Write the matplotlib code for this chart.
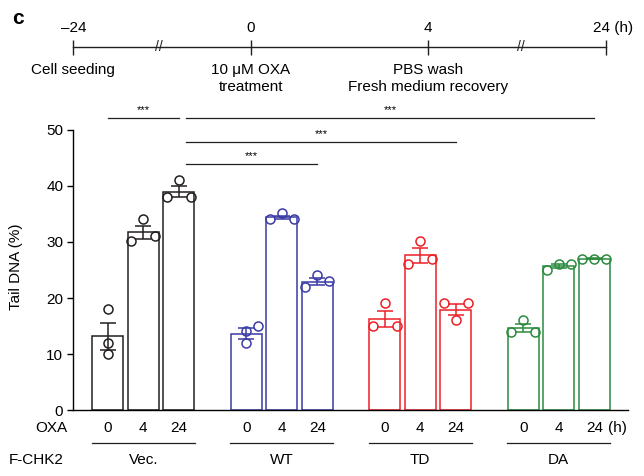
import numpy as np
import matplotlib
matplotlib.use('Agg')
import matplotlib.pyplot as plt

plt.rcParams['font.family'] = ['Liberation Sans', 'DejaVu Sans']
plt.rcParams['font.size'] = 11

# data
groups = ['Vec.', 'WT', 'TD', 'DA']
oxa_times = ['0', '4', '24']
colors = ['#231f20', '#3b3ba6', '#ec2027', '#2b8a3e']

tail_mean = [[13.2, 31.7, 39.0],
             [13.6, 34.4, 22.9],
             [16.2, 27.6, 17.9],
             [14.6, 25.7, 27.0]]
tail_sem = [[2.4, 1.2, 1.0],
            [1.0, 0.3, 0.6],
            [1.4, 1.3, 1.0],
            [0.7, 0.4, 0.1]]
tail_pts = [[[18.0, 12.0, 10.0], [34.1, 30.2, 31.1], [41.1, 38.1, 38.1]],
            [[15.0, 14.1, 12.0], [35.1, 34.1, 34.1], [24.1, 22.0, 23.0]],
            [[19.1, 15.0, 15.0], [30.2, 26.0, 27.0], [19.1, 19.1, 16.0]],
            [[16.1, 14.0, 14.0], [25.0, 26.1, 26.1], [27.0, 27.0, 27.0]]]
# which side of the bar each dot sits (-1 left, 0 middle, 1 right)
pt_side = [[[0, 0, 0], [0, -1, 1], [0, -1, 1]],
           [[1, 0, 0], [0, -1, 1], [0, -1, 1]],
           [[0, -1, 1], [0, -1, 1], [-1, 1, 0]],
           [[0, -1, 1], [-1, 0, 1], [-1, 0, 1]]]

# significance: (group, bar) -> (group, bar)
sig_pairs = [((0, 0), (0, 2)), ((0, 2), (3, 2)), ((0, 2), (2, 2)), ((0, 2), (1, 2))]
sig_y = [52.1, 52.1, 47.9, 43.9]
sig_txt = ['***', '***', '***', '***']

timeline_t = ['\u201324', '0', '4', '24']
timeline_lbl = ['Cell seeding', '10 \u03bcM OXA\ntreatment', 'PBS wash\nFresh medium recovery', '']

gstep = 3.9
bw = 0.87

fig = plt.figure(figsize=(6.44, 4.76), dpi=100)
ax = fig.add_axes([72.7/644, 66/476, 555.3/644, 280/476])

def xpos(g, i):
    return g*gstep + i

for g in range(4):
    c = colors[g]
    for i in range(3):
        x = xpos(g, i)
        ax.bar(x, tail_mean[g][i], width=bw, facecolor='white', edgecolor=c,
               linewidth=1.1, zorder=2)
        ax.errorbar(x, tail_mean[g][i], yerr=tail_sem[g][i], fmt='none',
                    ecolor=c, elinewidth=1.1, capsize=5.5, capthick=1.1, zorder=3)
        xs = [x + 0.34*s for s in pt_side[g][i]]
        ax.plot(xs, tail_pts[g][i], 'o', ms=6.5, mfc='none', mec=c, mew=1.1,
                zorder=4, clip_on=False)
    # labels under axis
    for i in range(3):
        ax.text(xpos(g, i), -3.2, oxa_times[i], ha='center', va='center',
                clip_on=False)
    ax.plot([xpos(g, 0) - 0.45, xpos(g, 2) + 0.45], [-5.9, -5.9], color='#231f20',
            lw=0.9, clip_on=False)
    ax.text(xpos(g, 1), -8.9, groups[g], ha='center', va='center', clip_on=False)

ax.annotate('(h)', xy=(xpos(3, 2), -3.2), xytext=(10, 0), textcoords='offset points',
            ha='left', va='center', annotation_clip=False)
ax.text(-1.15, -3.2, 'OXA', ha='right', va='center', clip_on=False)
ax.text(-1.25, -8.9, 'F-CHK2', ha='right', va='center', clip_on=False)

# significance bars
for k, (a, b) in enumerate(sig_pairs):
    x0 = xpos(*a)
    x1 = xpos(*b)
    if k > 0:
        x0 += 0.2
    ax.plot([x0, x1], [sig_y[k], sig_y[k]], color='#231f20', lw=0.9, clip_on=False)
    ax.annotate(sig_txt[k], xy=((x0 + x1)/2, sig_y[k]), xytext=(0, 3.4),
                textcoords='offset points', ha='center', va='baseline',
                fontsize=8, annotation_clip=False)

ax.set_xlim(-0.99, 14.65)
ax.set_ylim(0, 50)
ax.set_yticks(np.arange(0, 51, 10))
ax.set_xticks([])
ax.spines['top'].set_visible(False)
ax.spines['right'].set_visible(False)
ax.spines['left'].set_linewidth(1.0)
ax.spines['bottom'].set_linewidth(1.0)
ax.tick_params(axis='y', length=4.3, width=1.0, pad=2.5)
ax.set_ylabel('Tail DNA (%)')
ax.yaxis.set_label_coords(-0.0895, 0.51)

# timeline (line sits at y = 47 px)
axt = fig.add_axes([73.3/644, (476 - 47.3 - 40)/476, 532.4/644, 80/476])
axt.set_xlim(0, 3)
axt.set_ylim(-1, 1)
axt.axis('off')
axt.plot([0, 3], [0, 0], color='#231f20', lw=1.0, clip_on=False)
axt.plot(range(4), [0]*4, '|', ms=10.8, mew=1.0, color='#231f20', clip_on=False)
for i, t in enumerate(timeline_t):
    if i == 3:
        axt.annotate(t + ' (h)', xy=(i, 0), xytext=(-9, 13.9), textcoords='offset points',
                     ha='left', va='center', annotation_clip=False)
    else:
        axt.annotate(t, xy=(i, 0), xytext=(0, 13.9), textcoords='offset points',
                     ha='center', va='center', annotation_clip=False)
    if timeline_lbl[i]:
        axt.annotate(timeline_lbl[i], xy=(i, 0), xytext=(0, -11.5), textcoords='offset points',
                     ha='center', va='top', linespacing=1.25, annotation_clip=False)
for bx in [0.48, 2.52]:
    axt.text(bx, 0, '//', ha='center', va='center', fontsize=10, color='#231f20')

fig.text(18/644, 1 - 18/476, 'c', ha='center', va='center', fontsize=15,
         fontweight='bold')

fig.savefig('out.png', dpi=100)
